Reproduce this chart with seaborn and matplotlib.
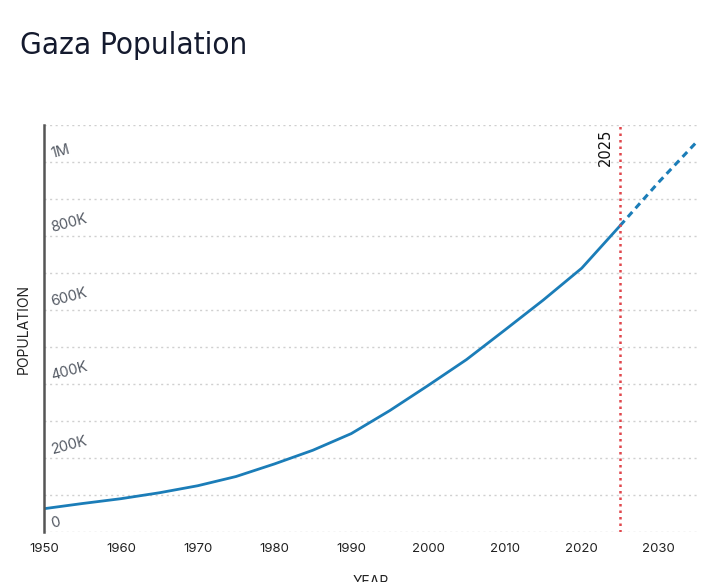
import matplotlib
matplotlib.use("Agg")
import matplotlib.pyplot as plt
import seaborn as sns
import pandas as pd

# Data (thousands)
years = [1950, 1955, 1960, 1965, 1970, 1975, 1980, 1985, 1990, 1995,
         2000, 2005, 2010, 2015, 2020, 2025]
population = [63, 77, 90, 106, 125, 150, 184, 221, 266, 328,
              396, 466, 546, 627, 713, 828]
proj_years = [2025, 2030, 2035]
proj_population = [828, 945, 1055]
xticks = [1950, 1960, 1970, 1980, 1990, 2000, 2010, 2020, 2030]
yticks = [0, 200, 400, 600, 800, 1000]
ytick_labels = ["0", "200K", "400K", "600K", "800K", "1M"]
marker_year = 2025

sns.set_theme(style="white")
plt.rcParams["font.family"] = ["Inter", "DejaVu Sans"]

hist = pd.DataFrame({"year": years, "pop": [p * 1000 for p in population]})
proj = pd.DataFrame({"year": proj_years, "pop": [p * 1000 for p in proj_population]})

fig = plt.figure(figsize=(7.17, 5.82), dpi=100)
ax = fig.add_axes([0.0614, 0.0859, 0.9106, 0.6993])

line_color = "#1b7db8"
sns.lineplot(data=hist, x="year", y="pop", ax=ax, color=line_color, lw=2.0)
sns.lineplot(data=proj, x="year", y="pop", ax=ax, color=line_color, lw=2.2,
             linestyle=(0, (2.2, 1.6)))

ax.set_xlim(1950, 2035)
ax.set_ylim(0, 1100000)

# grid
for g in range(0, 1100001, 100000):
    ax.axhline(g, color="#d0d0d0", lw=1, linestyle=(0, (1.5, 2.5)), zorder=0)

ax.axvline(marker_year, color="#e0474c", lw=1.8, linestyle=(0, (1, 1.6)), zorder=3)
ax.text(marker_year - 0.9, 1090000, str(marker_year), rotation=90, ha="right", va="top",
        fontsize=10.5, color="#111111", family=["DejaVu Sans"])

for s in ["top", "right", "bottom"]:
    ax.spines[s].set_visible(False)
ax.spines["left"].set_color("#555555")
ax.spines["left"].set_linewidth(1.8)

ax.set_xticks(xticks)
ax.set_xticklabels([str(x) for x in xticks], fontsize=9.5, color="#222222")
ax.tick_params(axis="x", length=0, pad=8)

ax.set_yticks([v * 1000 for v in yticks])
ax.set_yticklabels([])
ax.tick_params(axis="y", direction="in", length=5, width=1, color="#555555")
for v, lab in zip(yticks, ytick_labels):
    ax.text(1951.2, v * 1000 + 4000, lab, rotation=15, rotation_mode="anchor",
            ha="left", va="bottom", fontsize=10.5, color="#555b65")

ax.set_xlabel("YEAR", fontsize=10, color="#222222", labelpad=14)
ax.set_ylabel("POPULATION", fontsize=10, color="#222222", labelpad=6)

fig.text(0.028, 0.922, "Gaza Population", fontsize=22.5, color="#141a2e",
         family=["DejaVu Sans"], fontstretch="condensed", ha="left", va="center")

fig.savefig("out.png", dpi=100)
